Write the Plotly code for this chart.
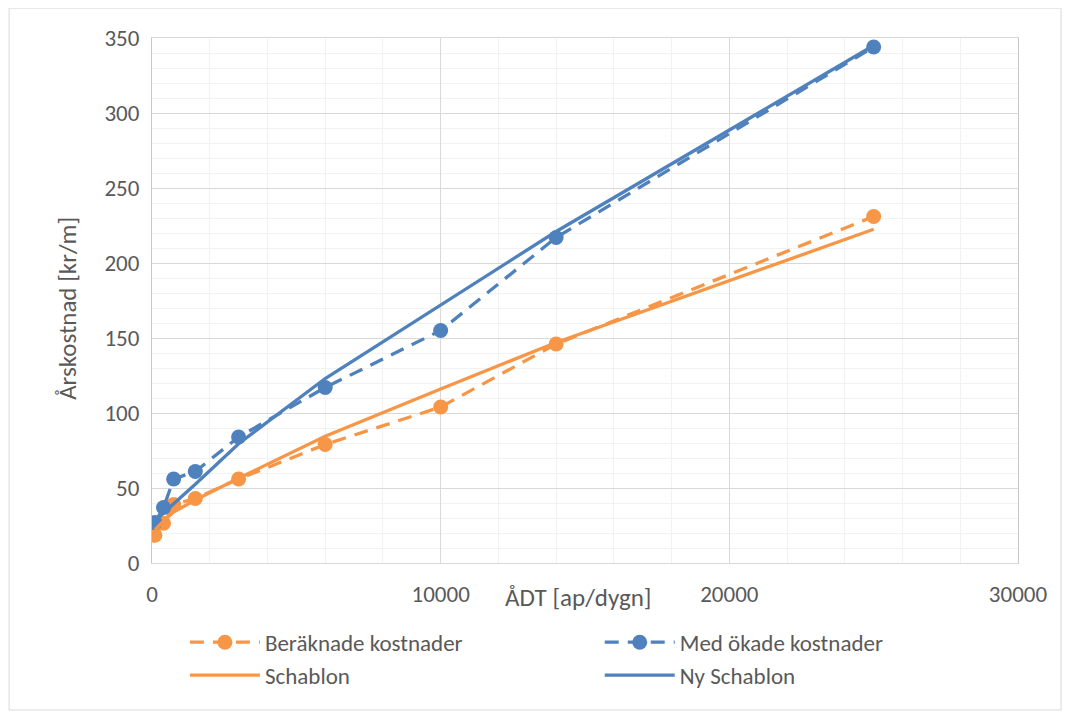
import plotly.graph_objects as go

# Data
adt = [100, 400, 750, 1500, 3000, 6000, 10000, 14000, 25000]
beraknade = [18.5, 26.5, 39, 43, 56, 79, 104, 146, 231]
med_okade = [27, 37, 56, 61, 84, 117, 155, 217, 344]
schablon = [22, 28, 34, 42, 56.5, 84.5, 116, 147, 222.5]
ny_schablon = [28, 33.5, 39.5, 52.5, 79.5, 123, 172, 221, 345]

x_ticks = [0, 10000, 20000, 30000]
y_ticks = [0, 50, 100, 150, 200, 250, 300, 350]

ORANGE = "#F79646"
BLUE = "#4F81BD"
TXT = "#595959"
FONT = "Carlito, Lato, sans-serif"

fig = go.Figure()
fig.add_trace(go.Scatter(x=adt, y=beraknade, name="Beräknade kostnader", mode="lines+markers",
                         line=dict(color=ORANGE, width=3.3, dash="14px,9px"),
                         marker=dict(color=ORANGE, size=15), legend="legend"))
fig.add_trace(go.Scatter(x=adt, y=med_okade, name="Med ökade kostnader", mode="lines+markers",
                         line=dict(color=BLUE, width=3.3, dash="14px,9px"),
                         marker=dict(color=BLUE, size=15), legend="legend2"))
fig.add_trace(go.Scatter(x=adt, y=schablon, name="Schablon", mode="lines",
                         line=dict(color=ORANGE, width=3.3), legend="legend"))
fig.add_trace(go.Scatter(x=adt, y=ny_schablon, name="Ny Schablon", mode="lines",
                         line=dict(color=BLUE, width=3.3), legend="legend2"))

leg_common = dict(orientation="v", yanchor="top", xanchor="left", itemwidth=70,
                  font=dict(family=FONT, size=23, color=TXT), bgcolor="rgba(0,0,0,0)",
                  tracegroupgap=0)

fig.update_layout(
    width=1062, height=710,
    margin=dict(l=144, r=52, t=30, b=155, autoexpand=False),
    paper_bgcolor="white", plot_bgcolor="white",
    font=dict(family=FONT, size=23, color=TXT),
    showlegend=True,
    legend=dict(x=0.038, y=-0.110, **leg_common),
    legend2=dict(x=0.517, y=-0.110, **leg_common),
    xaxis=dict(range=[0, 30000], tickvals=x_ticks, ticktext=[str(v) for v in x_ticks],
               showgrid=True, gridcolor="#d9d9d9", gridwidth=1,
               minor=dict(dtick=2000, showgrid=True, gridcolor="#f2f2f2", gridwidth=1),
               showline=True, linecolor="#d9d9d9", linewidth=1, mirror=True,
               zeroline=False, ticks="", ticklabelstandoff=10,
               tickfont=dict(size=23, color=TXT)),
    yaxis=dict(range=[0, 350], tickvals=y_ticks,
               showgrid=True, gridcolor="#d9d9d9", gridwidth=1,
               minor=dict(dtick=10, showgrid=True, gridcolor="#f2f2f2", gridwidth=1),
               showline=True, linecolor="#c8c8c8", linewidth=1, mirror=True,
               zeroline=False, ticks="", ticklabelstandoff=7,
               tickfont=dict(size=23, color=TXT)),
    annotations=[
        dict(text="ÅDT [ap/dygn]", x=0.493, y=-0.065, xref="paper", yref="paper",
             showarrow=False, font=dict(size=25, color=TXT),
             xanchor="center", yanchor="middle"),
        dict(text="Årskostnad [kr/m]", x=-0.097, y=0.486, xref="paper", yref="paper",
             showarrow=False, textangle=-90, font=dict(size=25, color=TXT),
             xanchor="center", yanchor="middle"),
    ],
    shapes=[dict(type="rect", xref="paper", yref="paper",
                 x0=-0.165, x1=1.0497, y0=-0.28, y1=1.057,
                 line=dict(color="#d9d9d9", width=1), fillcolor="rgba(0,0,0,0)", layer="below")],
)

fig.write_html("out.html")
